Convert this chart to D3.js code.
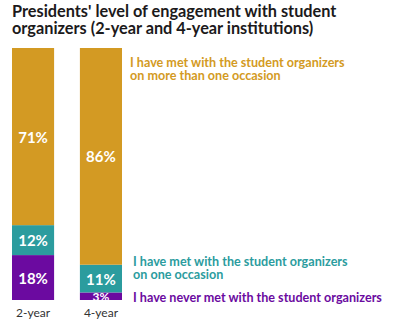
<!DOCTYPE html>
<html>
<head>
<meta charset="utf-8">
<script src="https://cdn.jsdelivr.net/npm/d3@7"></script>
<style>
  html, body { margin: 0; padding: 0; background: #fff; }
  svg { display: block; font-family: Lato, "Open Sans", sans-serif; }
</style>
</head>
<body>
<div id="chart"></div>
<script>
// ── Data ─────────────────────────────────────────────
const groups = ["2-year", "4-year"];
const moreThanOnce = [71, 86];
const oneOccasion = [12, 11];
const neverMet = [18, 3];
const legendLines = [
  ["I have met with the student organizers", "on more than one occasion"],
  ["I have met with the student organizers", "on one occasion"],
  ["I have never met with the student organizers"]
];
const titleLines = [
  "Presidents' level of engagement with student",
  "organizers (2-year and 4-year institutions)"
];

const colors = { more: "#d39a23", once: "#2b9c9e", never: "#6b0aa0" };

// ── Layout ───────────────────────────────────────────
const W = 396, H = 329;
const svg = d3.select("#chart").append("svg").attr("width", W).attr("height", H);

const rows = groups.map((g, i) => ({
  group: g, more: moreThanOnce[i], once: oneOccasion[i], never: neverMet[i]
}));

const x = d3.scaleBand().domain(groups).range([12, 122]).paddingInner(0.38).paddingOuter(0);
const y = d3.scaleLinear().domain([0, 1]).range([300, 48]);

// stack bottom-up: never, once, more — normalised to each bar's total
const stack = d3.stack().keys(["never", "once", "more"]).offset(d3.stackOffsetExpand);
const series = stack(rows);

// title
svg.append("g").selectAll("text")
  .data(titleLines).enter().append("text")
  .attr("x", 12)
  .attr("y", (d, i) => 17 + i * 16.5)
  .attr("font-size", 16.3)
  .attr("font-weight", 700)
  .attr("fill", "#1c1a1b")
  .text(d => d);

// bars
const defs = svg.append("defs");
series.forEach(s => {
  const g = svg.append("g");
  s.forEach((d, i) => {
    const x0 = x(groups[i]);
    const top = y(d[1]), bot = y(d[0]);
    const id = `clip-${s.key}-${i}`;
    defs.append("clipPath").attr("id", id).append("rect")
      .attr("x", x0).attr("y", top).attr("width", x.bandwidth()).attr("height", bot - top);
    g.append("rect")
      .attr("x", x0).attr("y", top)
      .attr("width", x.bandwidth()).attr("height", bot - top)
      .attr("fill", colors[s.key]);
    const val = d.data[s.key];
    const small = bot - top < 14;
    g.append("text")
      .attr("clip-path", `url(#${id})`)
      .attr("x", x0 + x.bandwidth() / 2)
      .attr("y", small ? bot + 1 : (top + bot) / 2)
      .attr("text-anchor", "middle")
      .attr("dominant-baseline", small ? "auto" : "central")
      .attr("font-size", small ? 12 : 15)
      .attr("font-weight", 700)
      .attr("fill", "#fff")
      .text(val + "%");
  });
});

// group labels
svg.append("g")
  .attr("transform", "translate(0,300)")
  .call(d3.axisBottom(x).tickSize(0).tickPadding(8))
  .call(g => g.select(".domain").remove())
  .selectAll("text")
  .attr("font-family", "Lato, 'Open Sans', sans-serif")
  .attr("font-size", 12)
  .attr("fill", "#333");

// legend labels
const legendPos = [
  { x: 130, y: 67, c: colors.more },
  { x: 133, y: 266, c: colors.once },
  { x: 133, y: 302, c: colors.never }
];
legendLines.forEach((lines, k) => {
  svg.append("g").selectAll("text")
    .data(lines).enter().append("text")
    .attr("x", legendPos[k].x)
    .attr("y", (d, i) => legendPos[k].y + i * 13)
    .attr("font-size", 12.6)
    .attr("font-weight", 700)
    .attr("fill", legendPos[k].c)
    .text(d => d);
});
</script>
</body>
</html>
